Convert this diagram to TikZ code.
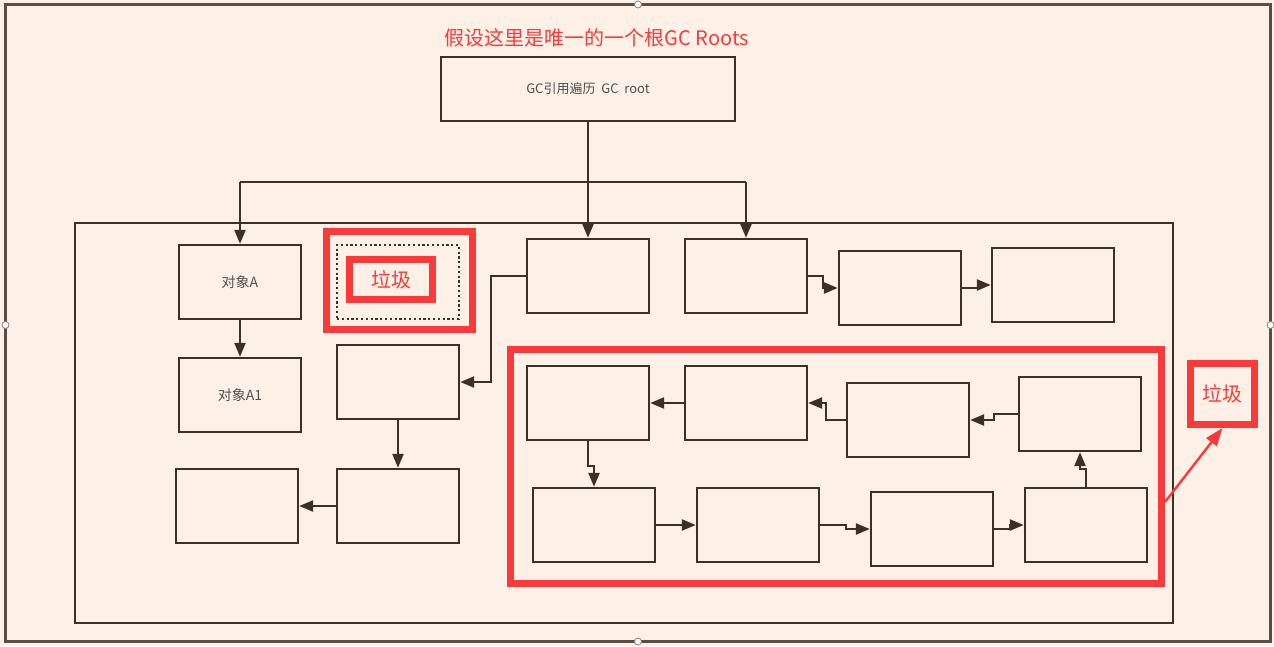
\documentclass[tikz,border=0pt]{standalone}
\usepackage{fontspec}
\setmainfont{Noto Sans CJK SC}
\usetikzlibrary{arrows.meta}
\definecolor{bg}{RGB}{253,240,230}
\definecolor{ln}{RGB}{58,48,40}
\definecolor{fr}{RGB}{88,78,70}
\definecolor{rd}{RGB}{250,58,58}
\definecolor{tx}{RGB}{80,80,80}
\begin{document}
\begin{tikzpicture}[x=1pt,y=-1pt,
  box/.style={draw=ln,line width=2.5pt,minimum width=122pt,minimum height=74pt,inner sep=0pt,outer sep=1.2pt,text=tx,font=\fontsize{14}{14}\selectfont},
  arr/.style={draw=ln,line width=2.4pt,-{Triangle[length=14pt,width=11pt]}},
  con/.style={draw=ln,line width=2.4pt},
  redframe/.style={draw=rd,line width=7pt,inner sep=0pt},
  redtext/.style={text=rd,font=\fontsize{20}{20}\selectfont},
  handle/.style={circle,draw=fr!70,fill=white,line width=0.8pt,minimum size=7pt,inner sep=0pt}
]
\fill[bg] (0,0) rectangle (1274,646);
\useasboundingbox (0,0) rectangle (1274,646);

% frames
\draw[fr,line width=3pt] (5.5,4.5) rectangle (1270.5,641.5);
\draw[ln,line width=2.4pt] (75,223) rectangle (1173,623);
\node[handle] (h1) at (638,4.5) {};
\node[handle] (h2) at (5.5,325) {};
\node[handle] (h3) at (1270.5,325) {};
\node[handle] (h4) at (638,641.5) {};

% title
\node[redtext] (title) at (597,38) {假设这里是唯一的一个根GC Roots};

% root box
\node[box,minimum width=294pt,minimum height=64pt,font=\fontsize{13}{13}\selectfont] (gc) at (588,89) {GC引用遍历\ \ GC\ \ root};

% junctions
\coordinate (jA) at (240,182);
\coordinate (jE) at (588,182);
\coordinate (jF) at (746,182);

% top-level boxes
\node[box] (A) at (240,282) {对象A};
\node[box] (A1) at (240,395) {对象A1};
\node[box,line width=2.2pt,dash pattern=on 2.2pt off 2.6pt] (dot) at (398,282) {};
\node[box] (E) at (588,276) {};
\node[box] (F) at (746,276) {};
\node[box] (G) at (900,288) {};
\node[box] (H) at (1053,285) {};
\node[box] (B) at (398,382) {};
\node[box] (C) at (398,506) {};
\node[box] (D) at (237,506) {};

% garbage group boxes
\node[box] (P1) at (588,403) {};
\node[box] (P2) at (746,403) {};
\node[box] (P3) at (908,420) {};
\node[box] (P4) at (1080,414) {};
\node[box] (Q1) at (594,525) {};
\node[box] (Q2) at (758,525) {};
\node[box] (Q3) at (932,529) {};
\node[box] (Q4) at (1086,525) {};

% red frames
\node[redframe,minimum width=146pt,minimum height=98pt] (gbox) at (399.5,280.5) {};
\node[redframe,minimum width=83pt,minimum height=40pt,redtext] (glbl) at (391,279.5) {垃圾};
\node[redframe,minimum width=651pt,minimum height=234pt] (garbage) at (836,466.5) {};
\node[redframe,minimum width=64pt,minimum height=61pt,redtext] (lbl) at (1222.5,394) {垃圾};

% connectors from root
\draw[con] (gc.south) -- (jE);
\draw[con] (jA) -- (jF);
\draw[arr] (jA) -- (A.north);
\draw[arr] (jE) -- (E.north);
\draw[arr] (jF) -- (F.north);

\draw[arr] (A.south) -- (A1.north);
\draw[arr] (F.east) -- ++(15,0) |- (G.west);
\draw[arr] (G.east) -- ++(16,0) |- (H.west);
\draw[arr] (E.west) -- ++(-35,0) |- (B.east);
\draw[arr] (B.south) -- (C.north);
\draw[arr] (C.west) -- (D.east);

% garbage cycle
\draw[arr] (P2.west) -- (P1.east);
\draw[arr] (P3.west) -- ++(-20,0) |- (P2.east);
\draw[arr] (P4.west) -- ++(-24,0) |- (P3.east);
\draw[arr] (P1.south) -- ++(0,25) -| (Q1.north);
\draw[arr] (Q1.east) -- (Q2.west);
\draw[arr] (Q2.east) -- ++(26,0) |- (Q3.west);
\draw[arr] (Q3.east) -- ++(16,0) |- (Q4.west);
\draw[arr] (Q4.north) -- ++(0,-18) -| (P4.south);

% red pointer
\coordinate (pstart) at (garbage.east |- 0,502);
\draw[draw=rd,line width=2.4pt,-{Triangle[length=18pt,width=13pt]}] (pstart) -- (lbl.south);
\end{tikzpicture}
\end{document}
